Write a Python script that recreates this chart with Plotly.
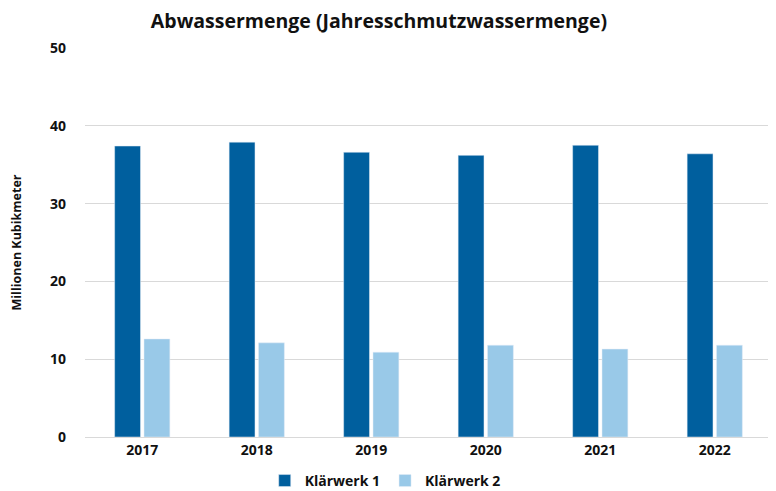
import plotly.graph_objects as go

years = ["2017", "2018", "2019", "2020", "2021", "2022"]
klaerwerk1 = [37.4, 37.9, 36.6, 36.2, 37.5, 36.4]
klaerwerk2 = [12.6, 12.1, 10.9, 11.8, 11.3, 11.8]
y_ticks = [0, 10, 20, 30, 40, 50]

font_family = "Open Sans"

fig = go.Figure()
fig.add_trace(go.Bar(x=years, y=klaerwerk1, name="Klärwerk 1", marker_color="#005F9E"))
fig.add_trace(go.Bar(x=years, y=klaerwerk2, name="Klärwerk 2", marker_color="#99C9E8"))

fig.update_layout(
    width=768, height=483,
    margin=dict(l=77, r=4, t=40, b=54, autoexpand=False),
    paper_bgcolor="white", plot_bgcolor="white",
    barmode="group", bargap=0.487, bargroupgap=0.12,
    title=dict(text="<b>Abwassermenge (Jahresschmutzwassermenge)</b>",
               x=0.483, xanchor="center", y=0.972, yanchor="middle",
               font=dict(family=font_family, size=19.5, color="#111111")),
    font=dict(family=font_family, color="#111111"),
    showlegend=True,
    legend=dict(orientation="h", x=0.437, xanchor="center", y=-0.113, yanchor="middle",
                font=dict(family=font_family, size=14, color="#111111", weight="bold"),
                itemwidth=30, traceorder="normal", tracegroupgap=0),
    xaxis=dict(type="category", showgrid=False, showline=True, linecolor="#d9d9d9",
               linewidth=1, ticks="", automargin=False,
               tickfont=dict(size=14, family=font_family, weight="bold")),
    yaxis=dict(range=[0, 50], tickvals=y_ticks, showgrid=True, gridcolor="#d9d9d9",
               zeroline=False, ticks="", ticklabelstandoff=18, automargin=False,
               tickfont=dict(size=14, family=font_family, weight="bold"),
               title=dict(text="<b>Millionen Kubikmeter</b>", standoff=29,
                          font=dict(size=12.5, family=font_family))),
)
fig.write_html("out.html")
